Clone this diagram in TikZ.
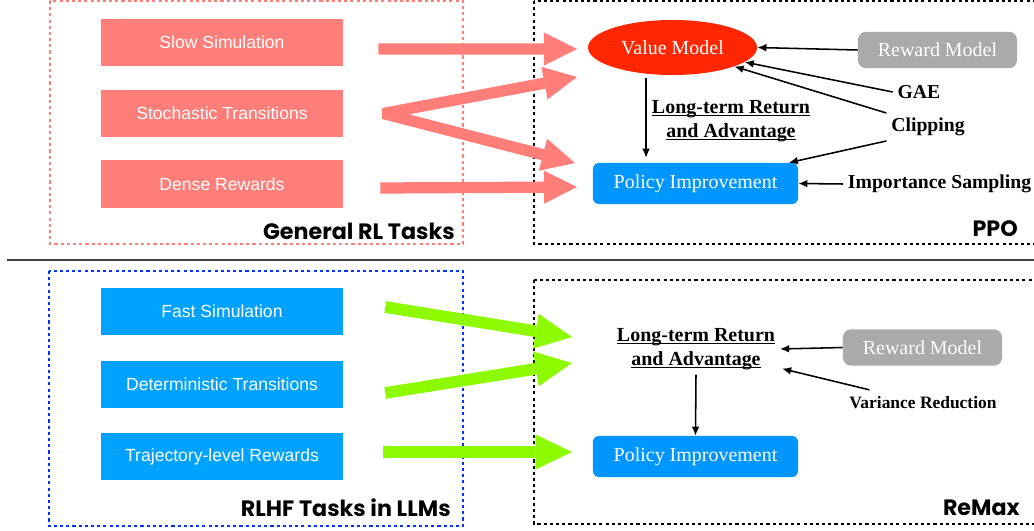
\documentclass[tikz,border=0pt]{standalone}
\usepackage{fontspec}
\setmainfont{Liberation Serif}
\setsansfont{Liberation Sans}
\newfontfamily\comicfont{Poppins}
\usetikzlibrary{arrows.meta,shapes.geometric,calc}
\definecolor{salmon}{HTML}{FF7E79}
\definecolor{llmblue}{HTML}{00A2FF}
\definecolor{frameblue}{HTML}{0433FF}
\definecolor{piblue}{HTML}{0096FF}
\definecolor{vmred}{HTML}{FF2600}
\definecolor{rmgray}{HTML}{AAAAAA}
\definecolor{lime}{HTML}{8EFA00}
\newcommand{\uline}[1]{\setbox0\hbox{#1}\rlap{\rule[-1.8pt]{\wd0}{0.9pt}}\box0}
\begin{document}
\begin{tikzpicture}[x=0.025cm,y=-0.025cm,
  task/.style={rectangle, minimum width=6.05cm, minimum height=1.175cm, inner sep=0,
    text=white, font=\sffamily\fontsize{12.5}{14}\selectfont},
  tag/.style={inner sep=0, font=\comicfont\bfseries\fontsize{15.8}{18}\selectfont},
  frame/.style={line width=1pt, dash pattern=on 2.2pt off 2.2pt},
  rmbox/.style={rectangle, rounded corners=0.2cm, fill=rmgray, text=white, inner sep=0,
    minimum width=3.975cm, minimum height=0.91cm, font=\fontsize{14.2}{17}\selectfont},
  pibox/.style={rectangle, rounded corners=0.15cm, fill=piblue, text=white, inner sep=0,
    minimum width=5.125cm, minimum height=1.025cm, font=\fontsize{14.2}{17}\selectfont},
  lbl/.style={font=\bfseries\fontsize{14}{17}\selectfont},
  ret/.style={align=center, font=\bfseries\fontsize{14.2}{17}\selectfont},
  link/.style={line width=1.1pt, -{Latex[length=6.5pt,width=5.5pt]}},
  pinkflow/.style={salmon, line width=8pt, -{Triangle[length=23.5pt,width=23.5pt,line width=0pt]}},
  greenflow/.style={lime, line width=8.3pt, -{Triangle[length=26pt,width=25pt,line width=0pt]}}]
\useasboundingbox (0,0) rectangle (1034,531);
% frames
\draw[frame, salmon] (50,1) rectangle (463,244);
\draw[frame, frameblue] (49,271) rectangle (463,526);
\draw[frame] (534,1) rectangle (1040,244);
\draw[frame] (534,280) rectangle (1040,524);
\draw[black!75, line width=1.5pt] (7,260) -- (1034,260);
% task boxes
\node[task, fill=salmon] (slow) at (222,42.5) {Slow Simulation};
\node[task, fill=salmon] (stoch) at (222,113.5) {Stochastic Transitions};
\node[task, fill=salmon] (dense) at (222,184) {Dense Rewards};
\node[task, fill=llmblue] (fast) at (222,311.5) {Fast Simulation};
\node[task, fill=llmblue] (determ) at (222,384.5) {Deterministic Transitions};
\node[task, fill=llmblue] (traj) at (222,456.5) {Trajectory-level Rewards};
\node[tag, anchor=east] (rltag) at (455,231) {General RL Tasks};
\node[tag, anchor=east] (ppotag) at (1018,229) {PPO};
\node[tag, anchor=east] (llmtag) at (451,508) {RLHF Tasks in LLMs};
\node[tag, anchor=east] (remaxtag) at (1020,508) {ReMax};
% PPO
\node[ellipse, fill=vmred, text=white, inner sep=0, minimum width=4.225cm, minimum height=1.375cm,
  font=\fontsize{14.2}{17}\selectfont] (vm) at (672.5,47.5) {Value Model};
\node[rmbox] (rm1) at (937.5,50) {Reward Model};
\node[pibox] (pi1) at (695.5,183.5) {Policy Improvement};
\node[lbl] (gae) at (919,92) {GAE};
\node[lbl] (clip) at (928,127) {Clipping};
\node[lbl, anchor=west] (imp) at (843,184) {Importance Sampling};
\node[ret] (ret1) at (731,121) {\uline{Long-term Return}\\\uline{and Advantage}};
% ReMax
\node[ret] (ret2) at (696,349) {\uline{Long-term Return}\\\uline{and Advantage}};
\node[rmbox] (rm2) at (922.5,347.5) {Reward Model};
\node[lbl, font=\bfseries\fontsize{12.4}{15}\selectfont] (vr) at (923,403) {Variance Reduction};
\node[pibox] (pi2) at (695.5,456.5) {Policy Improvement};
% flow tips
\coordinate (p1) at (577,49);
\coordinate (p2) at (577,77);
\coordinate (p3) at (575,163);
\coordinate (p4) at (577,187);
\coordinate (fork) at ($(stoch.east)+(40,0)$);
\coordinate (g1) at (572,337);
\coordinate (g2) at (572,363);
\coordinate (g3) at (572,452);
\draw[pinkflow] ($(slow.east)+(35,6.5)$) -- (p1);
\draw[salmon, line width=8pt, line join=bevel,
  {Triangle[length=23.5pt,width=23.5pt,line width=0pt]}-{Triangle[length=23.5pt,width=23.5pt,line width=0pt]}]
  (p2) -- (fork) -- (p3);
\draw[pinkflow] ($(dense.east)+(37,4)$) -- (p4);
\draw[greenflow] ($(fast.east)+(42,-4.5)$) -- (g1);
\draw[greenflow] ($(determ.east)+(42,8.5)$) -- (g2);
\draw[greenflow] ($(traj.east)+(40,-4.5)$) -- (g3);
% black arrows
\draw[link] (rm1.west) -- (vm.east);
\draw[link] (gae.west) -- (vm);
\draw[link] (clip.north west) -- (vm);
\draw[link] (clip.south west) -- (pi1);
\draw[link] (imp.west) -- (pi1.east);
\draw[link, shorten <=3pt, shorten >=3.5pt] (vm.225) -- (vm.225 |- pi1.north);
\draw[link] (rm2.west) -- (ret2.east);
\draw[link] ($(vr.north west)+(25,-2)$) -- ($(ret2.south east)+(2,-6)$);
\draw[link] (ret2.south) -- (pi2.north);
\end{tikzpicture}
\end{document}
